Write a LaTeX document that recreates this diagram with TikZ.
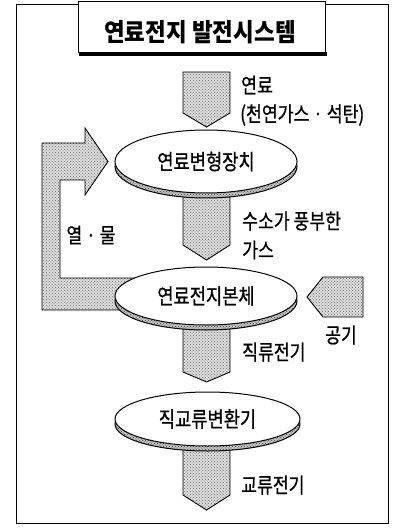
\documentclass[tikz,border=0pt]{standalone}
\usepackage{fontspec}
\newfontfamily\kr[FakeStretch=0.82,FakeBold=0.8]{Noto Sans CJK KR}
\newfontfamily\krtitle[FakeStretch=0.9]{Noto Sans CJK KR}
\usetikzlibrary{patterns,shapes.geometric}
\tikzset{
  blk/.style={draw=black, line width=0.9pt, line join=miter, preaction={fill=black!14}, pattern=crosshatch dots, pattern color=black!55},
  lbl/.style={font=\kr\fontsize{21}{23}\selectfont, inner sep=0pt},
  ell/.style={ellipse, draw=black, line width=1pt, fill=white, inner sep=0pt, font=\kr\fontsize{21.5}{24}\selectfont},
  rim/.style={draw=black, line width=1pt, preaction={fill=black!25}, pattern=crosshatch dots, pattern color=black!70},
}
\begin{document}
\begin{tikzpicture}[x=1pt,y=-1pt]
\useasboundingbox (0,0) rectangle (394,529);
% outer frame
\draw[line width=1pt] (16,5) rectangle (388,523);
% title box
\fill (79,52) rectangle (327,56.5);
\node[draw, line width=1pt, fill=white, minimum width=247pt, minimum height=51pt, anchor=north west, inner sep=0pt] (title) at (78,1) {};
\node[font=\krtitle\bfseries\fontsize{25}{27}\selectfont, inner sep=0pt] (ttext) at (200,32) {연료전지 발전시스템};

% feedback arrow (heat/water)
\path[blk] (42,310) -- (42,143) -- (85,143) -- (85,128) -- (108,161.5) -- (85,195) -- (85,180) -- (60,180) -- (60,278) -- (150,278) -- (150,310) -- cycle;
% down arrows
\path[blk] (183,72) -- (230,72) -- (230,113) -- (206.5,127) -- (183,113) -- cycle;
\path[blk] (183,185) -- (230,185) -- (230,245) -- (206.5,260) -- (183,245) -- cycle;
\path[blk] (183,315) -- (230,315) -- (230,372) -- (206.5,382) -- (183,372) -- cycle;
\path[blk] (183,440) -- (230,440) -- (230,495) -- (206.5,510) -- (183,495) -- cycle;
% air arrow
\path[blk] (363,277) -- (323,277) -- (307,297) -- (323,317) -- (363,317) -- cycle;

% ellipses
\coordinate (c1) at (206,161.5);
\coordinate (c2) at (206,296);
\coordinate (c3) at (207.5,419);
\path[rim] ([yshift=-5pt]c1) ellipse [x radius=91pt, y radius=31.5pt];
\node[ell, minimum width=182pt, minimum height=63pt] (e1) at (c1) {연료변형장치};
\path[rim] ([yshift=-5pt]c2) ellipse [x radius=91pt, y radius=29pt];
\node[ell, minimum width=182pt, minimum height=58pt] (e2) at (c2) {연료전지본체};
\path[rim] ([yshift=-5pt]c3) ellipse [x radius=92.5pt, y radius=27pt];
\node[ell, minimum width=185pt, minimum height=54pt] (e3) at (c3) {직교류변환기};

% labels
\node[lbl, anchor=west] (l1) at (241,85) {연료};
\node[lbl, anchor=west] (l2) at (240,115) {(천연가스 · 석탄)};
\node[lbl, anchor=west] (l3) at (242,221) {수소가 풍부한};
\node[lbl, anchor=west] (l4) at (242,250) {가스};
\node[lbl] (l5) at (91,235) {열 · 물};
\node[lbl] (l6) at (341,335) {공기};
\node[lbl, anchor=west] (l7) at (242,352) {직류전기};
\node[lbl, anchor=west] (l8) at (241,485) {교류전기};
\end{tikzpicture}
\end{document}
